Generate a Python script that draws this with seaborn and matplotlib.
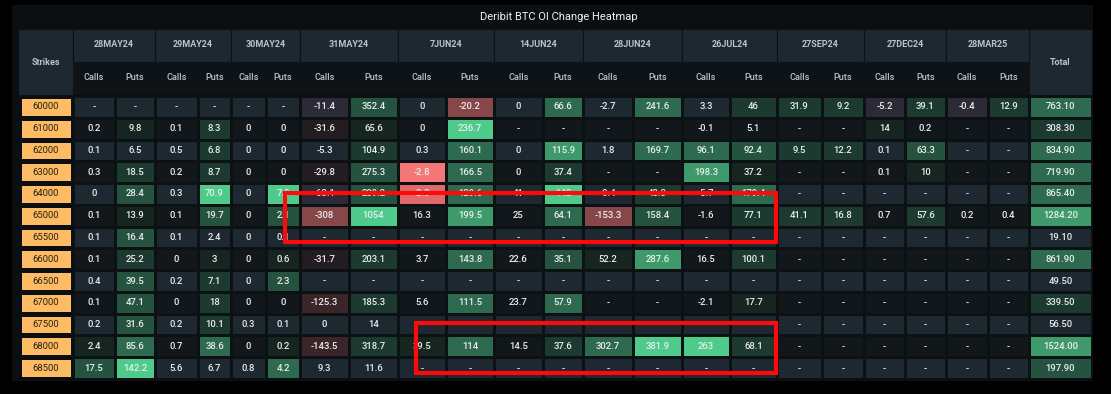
import numpy as np
import pandas as pd
import matplotlib.pyplot as plt
import seaborn as sns
from matplotlib.colors import ListedColormap, BoundaryNorm
from matplotlib.patches import Rectangle

N = None  # "-" : strike not listed for that expiry

strikes = [60000, 61000, 62000, 63000, 64000, 65000, 65500,
           66000, 66500, 67000, 67500, 68000, 68500]
expiries = ["28MAY24", "29MAY24", "30MAY24", "31MAY24", "7JUN24", "14JUN24",
            "28JUN24", "26JUL24", "27SEP24", "27DEC24", "28MAR25"]

# OI change (BTC) per expiry, one value per strike
may28_calls = [N, 0.2, 0.1, 0.3, 0, 0.1, 0.1, 0.1, 0.4, 0.1, 0.2, 2.4, 17.5]
may28_puts = [N, 9.8, 6.5, 18.5, 28.4, 13.9, 16.4, 25.2, 39.5, 47.1, 31.6, 85.6, 142.2]
may29_calls = [N, 0.1, 0.5, 0.2, 0.3, 0.1, 0.1, 0, 0.2, 0, 0.2, 0.7, 5.6]
may29_puts = [N, 8.3, 6.8, 8.7, 70.9, 19.7, 2.4, 3, 7.1, 18, 10.1, 38.6, 6.7]
may30_calls = [N, 0, 0, 0, 0, 0, 0, 0, 0, 0, 0.3, 0, 0.8]
may30_puts = [N, 0, 0, 0, 7.8, 2.1, 0.1, 0.6, 2.3, 0, 0.1, 0.2, 4.2]
may31_calls = [-11.4, -31.6, -5.3, -29.8, -63.1, -308, N, -31.7, N, -125.3, 0, -143.5, 9.3]
may31_puts = [352.4, 65.6, 104.9, 275.3, 289.2, 1054, N, 203.1, N, 185.3, 14, 318.7, 11.6]
jun07_calls = [0, 0, 0.3, -2.8, -2.3, 16.3, N, 3.7, N, 5.6, N, 39.5, N]
jun07_puts = [-20.2, 236.7, 160.1, 166.5, 129.6, 199.5, N, 143.8, N, 111.5, N, 114, N]
jun14_calls = [0, N, 0, 0, 41, 25, N, 22.6, N, 23.7, N, 14.5, N]
jun14_puts = [66.6, N, 115.9, 37.4, 142, 64.1, N, 35.1, N, 57.9, N, 37.6, N]
jun28_calls = [-2.7, N, 1.8, N, -0.4, -153.3, N, 52.2, N, N, N, 302.7, N]
jun28_puts = [241.6, N, 169.7, N, 48.3, 158.4, N, 287.6, N, N, N, 381.9, N]
jul26_calls = [3.3, -0.1, 96.1, 198.3, -5.7, -1.6, N, 16.5, N, -2.1, N, 263, N]
jul26_puts = [46, 5.1, 92.4, 37.2, 179.4, 77.1, N, 100.1, N, 17.7, N, 68.1, N]
sep27_calls = [31.9, N, 9.5, N, N, 41.1, N, N, N, N, N, N, N]
sep27_puts = [9.2, N, 12.2, N, N, 16.8, N, N, N, N, N, N, N]
dec27_calls = [-5.2, 14, 0.1, 0.1, N, 0.7, N, N, N, N, N, N, N]
dec27_puts = [39.1, 0.2, 63.3, 10, N, 57.6, N, N, N, N, N, N, N]
mar28_calls = [-0.4, N, N, N, N, 0.2, N, N, N, N, N, N, N]
mar28_puts = [12.9, N, N, N, N, 0.4, N, N, N, N, N, N, N]
totals = [763.10, 308.30, 834.90, 719.90, 865.40, 1284.20, 19.10,
          861.90, 49.50, 339.50, 56.50, 1524.00, 197.90]

# heat level of each cell as shown (-6 strong decrease .. 6 strong increase),
# columns: 22 calls/puts columns then Total
heat_level = [
    [0, 0, 0, 0, 0, 0, -1, 3, 0, -4, 0, 4, 0, 4, 0, 2, 2, 2, -1, 2, -1, 2, 4],
    [0, 1, 0, 2, 0, 0, -2, 1, 0, 6, 0, 0, 0, 0, 0, 0, 0, 0, 1, 0, 0, 0, 2],
    [0, 0, 0, 2, 0, 0, 0, 2, 0, 4, 0, 5, 0, 4, 4, 3, 2, 2, 0, 3, 0, 0, 4],
    [0, 2, 0, 2, 0, 0, -2, 3, -6, 4, 0, 2, 0, 0, 5, 1, 0, 0, 0, 1, 0, 0, 4],
    [0, 3, 0, 6, 0, 6, -1, 3, -5, 4, 0, 6, 0, 2, 0, 4, 0, 0, 0, 0, 0, 0, 4],
    [0, 1, 0, 3, 0, 3, -4, 6, 0, 5, 0, 4, -4, 3, 0, 2, 2, 2, 0, 2, 0, 0, 5],
    [0, 3, 0, 0, 0, 0, 0, 0, 0, 0, 0, 0, 0, 0, 0, 0, 0, 0, 0, 0, 0, 0, 0],
    [0, 2, 0, 1, 0, 1, -2, 2, 0, 4, 0, 3, 1, 5, 0, 2, 0, 0, 0, 0, 0, 0, 4],
    [0, 3, 0, 2, 0, 3, 0, 0, 0, 0, 0, 0, 0, 0, 0, 0, 0, 0, 0, 0, 0, 0, 0],
    [0, 3, 0, 2, 0, 0, -3, 2, 0, 4, 0, 4, 0, 0, 0, 1, 0, 0, 0, 0, 0, 0, 2],
    [0, 3, 0, 2, 0, 0, 0, 0, 0, 0, 0, 0, 0, 0, 0, 0, 0, 0, 0, 0, 0, 0, 0],
    [1, 4, 0, 4, 0, 1, -3, 2, 1, 4, 0, 2, 4, 6, 6, 2, 0, 0, 0, 0, 0, 0, 5],
    [3, 6, 0, 0, 0, 4, 0, 0, 0, 0, 0, 0, 0, 0, 0, 0, 0, 0, 0, 0, 0, 0, 3],
]

columns = [may28_calls, may28_puts, may29_calls, may29_puts, may30_calls, may30_puts,
           may31_calls, may31_puts, jun07_calls, jun07_puts, jun14_calls, jun14_puts,
           jun28_calls, jun28_puts, jul26_calls, jul26_puts, sep27_calls, sep27_puts,
           dec27_calls, dec27_puts, mar28_calls, mar28_puts]

# ---- styling ----
plt.rcParams['font.family'] = ['Roboto', 'DejaVu Sans']
W, H = 1111, 394
PANEL = '#0b0f12'
STRIPE = ['#1e2830', '#11171b']
SEP = '#0c1114'
TXT = '#eceef0'
HDR_TXT = '#bcc2c8'
FS = 6.8
level_colors = ['#f47676', '#e06a6b', '#874748', '#3b2529', '#231d22', '#2b2a36',
                (0, 0, 0, 0),
                '#16251f', '#1c3a30', '#25533f', '#2e6a50', '#3f9a6b', '#4ecb8a']
level_cmap = ListedColormap(level_colors)
level_norm = BoundaryNorm(np.arange(-6.5, 7.5, 1), level_cmap.N)

# column edges in pixels (strikes | 22 data columns | total)
col_edges = [73, 115, 155, 198, 231, 266, 300, 349, 398, 446, 494, 543, 583,
             633, 682, 730, 777, 822, 864, 905, 946, 988, 1029, 1092]
strike_x = (19, 73)
top_hdr, mid_hdr, body_top, body_bot = 29, 62, 96, 379

fig = plt.figure(figsize=(W / 100, H / 100), dpi=100, facecolor='black')


def px_axes(x0, x1, y0, y1, **kw):
    return fig.add_axes([x0 / W, 1 - y1 / H, (x1 - x0) / W, (y1 - y0) / H], **kw)


bg = px_axes(0, W, 0, H)
bg.set_xlim(0, W)
bg.set_ylim(H, 0)
bg.axis('off')
bg.add_patch(Rectangle((12, 5), 1081, 376, color=PANEL, lw=0))
bg.text(559, 16.5, 'Deribit BTC OI Change Heatmap', color='#f2f2f2', fontsize=8,
        ha='center', va='center')

# header blocks
for x0, x1, label in [(strike_x[0] - 1, strike_x[1], 'Strikes'), (col_edges[-2], col_edges[-1], 'Total')]:
    bg.add_patch(Rectangle((x0, top_hdr), x1 - x0, body_top - 1 - top_hdr,
                           facecolor='#1e2830', edgecolor=SEP, lw=0.8))
    bg.text((x0 + x1) / 2, (top_hdr + body_top) / 2, label, color=HDR_TXT,
            fontsize=FS - 0.3, ha='center', va='center', fontweight='bold')
for k, exp in enumerate(expiries):
    x0, x1 = col_edges[2 * k], col_edges[2 * k + 2]
    bg.add_patch(Rectangle((x0, top_hdr), x1 - x0, mid_hdr - top_hdr,
                           facecolor='#1e2830', edgecolor=SEP, lw=0.8))
    bg.text((x0 + x1) / 2, 44, exp, color=HDR_TXT, fontsize=FS - 0.3,
            ha='center', va='center', fontweight='bold')
bg.add_patch(Rectangle((col_edges[0], mid_hdr), col_edges[-2] - col_edges[0],
                       body_top - 1 - mid_hdr, color='#0e1317', lw=0))
for j in range(22):
    bg.text((col_edges[j] + col_edges[j + 1]) / 2, 77, 'Calls' if j % 2 == 0 else 'Puts',
            color=HDR_TXT, fontsize=FS - 0.2, ha='center', va='center', fontweight='medium')

stripe = pd.DataFrame({'s': [i % 2 for i in range(len(strikes))]}, index=strikes)
stripe_cmap = ListedColormap(STRIPE)


def cell_text(v, fmt):
    return '-' if v is None else fmt(v)


def draw_column(j, values, fmt):
    ax = px_axes(col_edges[j], col_edges[j + 1], body_top, body_bot)
    sns.heatmap(stripe, cmap=stripe_cmap, vmin=0, vmax=1, cbar=False, ax=ax,
                linewidths=1, linecolor=SEP, xticklabels=False, yticklabels=False)
    lev = pd.DataFrame({'v': [row[j] for row in heat_level]}, index=strikes)
    labels = np.array([[cell_text(v, fmt)] for v in values])
    sns.heatmap(lev, cmap=level_cmap, norm=level_norm, cbar=False, ax=ax,
                annot=labels, fmt='',
                annot_kws={'color': TXT, 'fontsize': FS, 'fontweight': 'medium'},
                linewidths=1, linecolor=SEP, xticklabels=False, yticklabels=False)
    ax.set_xlabel('')
    ax.set_ylabel('')


for j, col in enumerate(columns):
    draw_column(j, col, lambda v: f'{v:g}')
draw_column(22, totals, lambda v: f'{v:.2f}')

# strike labels
ax = px_axes(strike_x[0], strike_x[1], body_top, body_bot)
strike_df = pd.DataFrame({'k': np.ones(len(strikes))}, index=strikes)
sns.heatmap(strike_df, cmap=ListedColormap(['#fdbb64']), cbar=False, ax=ax,
            annot=np.array([[str(s)] for s in strikes]), fmt='',
            annot_kws={'color': '#2a2112', 'fontsize': FS},
            linewidths=2.2, linecolor=PANEL, xticklabels=False, yticklabels=False)
ax.set_xlabel('')
ax.set_ylabel('')

# red highlight boxes
ov = px_axes(0, W, 0, H)
ov.set_xlim(0, W)
ov.set_ylim(H, 0)
ov.axis('off')
ov.patch.set_alpha(0)
ov.add_patch(Rectangle((285, 193), 491, 49, fill=False, edgecolor='#ff0a0a', lw=3))
ov.add_patch(Rectangle((416, 323), 360, 50, fill=False, edgecolor='#ff0a0a', lw=3))

fig.savefig('out.png', dpi=100, facecolor='black')
